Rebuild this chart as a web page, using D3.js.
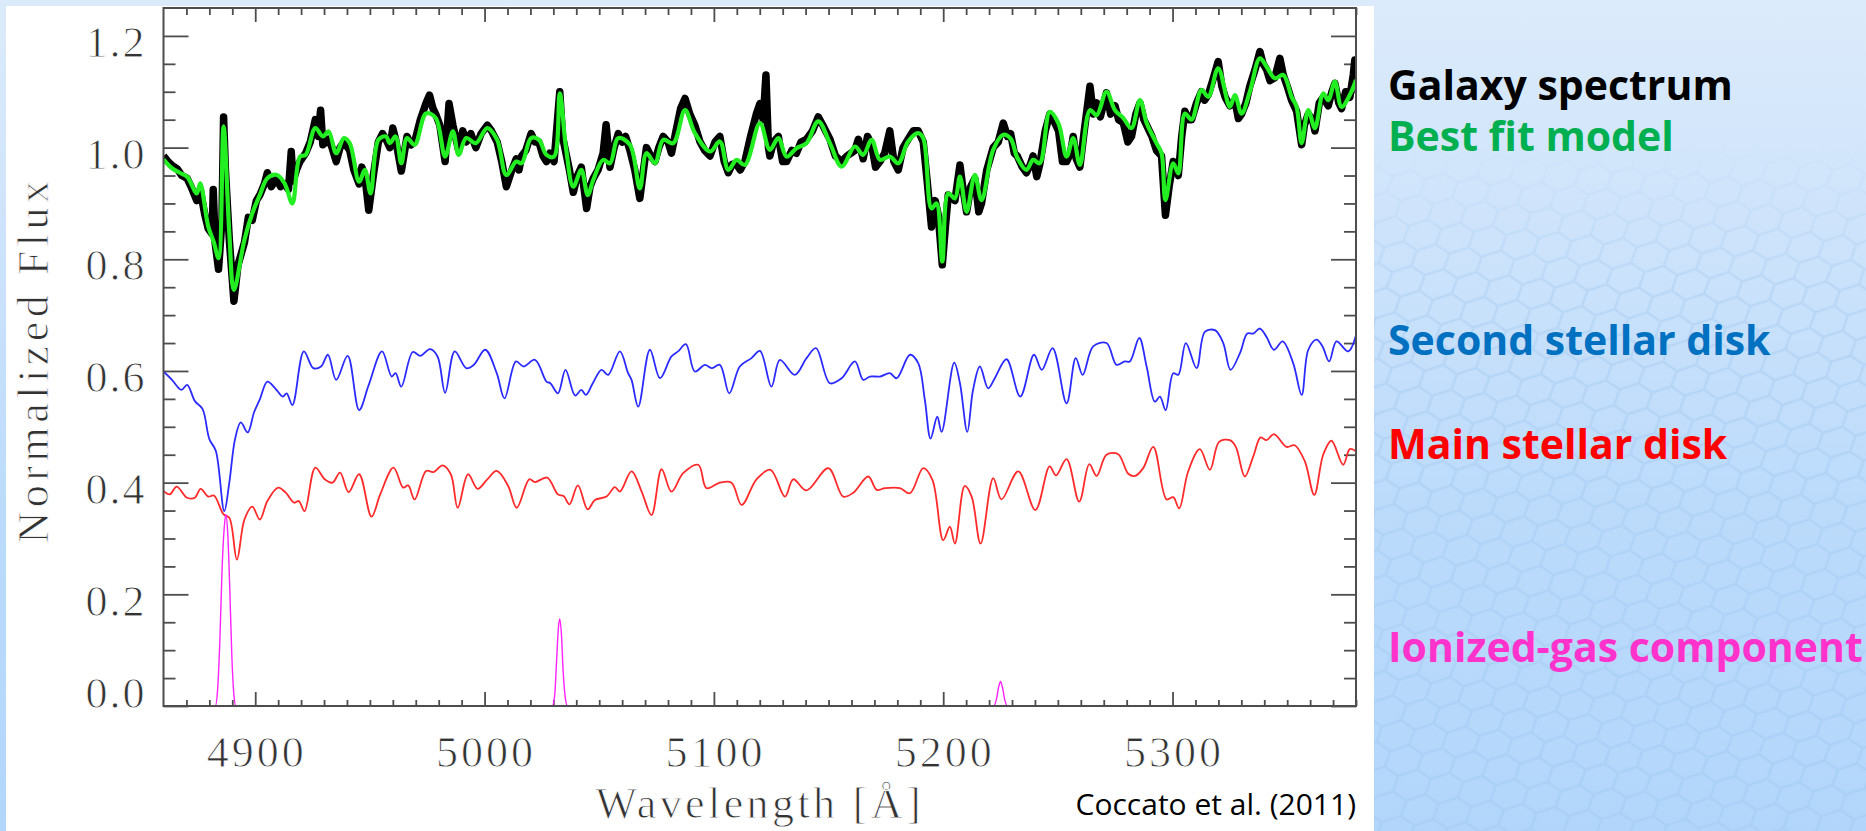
<!DOCTYPE html>
<html>
<head>
<meta charset="utf-8">
<script src="https://cdn.jsdelivr.net/npm/d3@7"></script>
<style>
  html, body { margin: 0; padding: 0; overflow: hidden; background: #fff; }
  svg { display: block; }
</style>
</head>
<body>
<svg id="chart" width="1866" height="831"></svg>
<script>
// ---- Spectra: [wavelength (Å), normalized flux] ----
const galaxySpectrum = [
  [4860,0.985],[4862,0.975],[4863.7,0.968],[4866,0.962],[4868,0.950],[4870.3,0.945],[4872,0.930],[4874.5,0.905],
  [4876,0.925],[4878,0.880],[4879.5,0.855],[4881.2,0.845],[4881.7,0.925],[4882.5,0.830],[4884,0.782],[4885.5,0.870],
  [4886.2,1.055],[4887,0.960],[4888.7,0.835],[4890.7,0.725],[4892.5,0.790],[4895.3,0.830],[4897,0.875],[4898.7,0.870],
  [4900.5,0.905],[4902,0.915],[4904,0.935],[4905.3,0.955],[4907,0.930],[4909.5,0.945],[4911,0.930],[4912.8,0.935],
  [4914.5,0.925],[4915.7,0.993],[4916.5,0.940],[4918,0.960],[4919.5,0.975],[4922,0.990],[4924,1.010],[4926.2,1.050],
  [4927.5,1.020],[4928.5,1.067],[4929.5,1.005],[4932,1.015],[4933.5,1.000],[4935.3,0.975],[4937,1.000],[4938.7,1.010],
  [4941.2,0.995],[4943,0.960],[4945.3,0.935],[4946.5,0.965],[4947.8,0.950],[4949.5,0.888],[4951.5,0.950],[4953.7,1.010],
  [4955.5,1.025],[4957,1.015],[4958.7,1.000],[4960,1.035],[4961.2,1.015],[4963.7,0.958],[4966.2,1.020],[4968,1.005],
  [4969.5,1.010],[4972,1.050],[4974.5,1.080],[4976,1.094],[4977.5,1.070],[4978.7,1.060],[4980.5,1.040],[4982.8,0.975],
  [4984.5,1.079],[4986.2,1.040],[4988.7,0.995],[4990.5,1.030],[4992,1.010],[4994,1.025],[4996.2,1.000],[4998.5,1.025],
  [5001.2,1.040],[5003,1.030],[5005.5,1.010],[5007.5,0.975],[5009.5,0.930],[5011.5,0.955],[5013.8,0.980],[5015,0.960],
  [5016.2,0.985],[5018,0.995],[5020.3,1.025],[5022,1.010],[5023.7,1.010],[5025.5,0.985],[5027,0.975],[5028.5,0.990],
  [5030.3,0.975],[5032.8,1.100],[5034,1.020],[5035.5,0.990],[5037,0.960],[5038.7,0.920],[5040.5,0.950],[5042.2,0.965],
  [5044.5,0.891],[5046,0.930],[5047.4,0.945],[5049.5,0.960],[5051.7,0.990],[5053,1.041],[5054.7,0.965],[5056.5,1.000],
  [5058.3,1.025],[5060,1.010],[5061.5,1.020],[5063.4,0.995],[5065.5,0.960],[5067.7,0.909],[5069,0.950],[5070.6,1.000],
  [5072.5,0.985],[5074.3,0.975],[5076,1.000],[5077.9,1.020],[5080,1.010],[5081.5,0.990],[5083.5,1.030],[5085.5,1.070],
  [5087.4,1.088],[5089.5,1.060],[5091.7,1.040],[5094,1.010],[5096,0.995],[5098.3,0.985],[5100.5,1.010],[5102.6,1.020],
  [5104.5,0.975],[5106.3,0.955],[5108,0.970],[5109.9,0.970],[5111.5,0.960],[5113.5,0.975],[5116,1.020],[5118.5,1.060],
  [5120.1,1.079],[5121.5,1.050],[5122.7,1.130],[5123.8,1.000],[5124.4,0.985],[5126,1.010],[5128.1,1.020],[5130,0.975],
  [5131.7,0.975],[5134,0.995],[5136,0.990],[5138,1.010],[5140.4,1.015],[5143,1.030],[5145.5,1.055],[5147.5,1.040],
  [5150.6,1.015],[5153,0.985],[5155.7,0.975],[5158,0.985],[5161.5,0.995],[5163,1.015],[5165.1,0.980],[5167,1.020],
  [5168.8,1.005],[5170.5,0.965],[5172.4,0.975],[5174.5,0.990],[5176.7,1.030],[5178.5,0.975],[5180.4,0.960],[5182.5,1.000],
  [5184.7,1.015],[5187,1.030],[5189.1,1.030],[5191.3,1.010],[5193,0.940],[5194.9,0.858],[5196.5,0.905],[5197.8,0.880],
  [5199.6,0.790],[5201,0.860],[5202.2,0.915],[5205.1,0.905],[5207.3,0.969],[5208.5,0.930],[5210.2,0.885],[5212,0.930],
  [5213.8,0.945],[5215.5,0.885],[5216.7,0.900],[5219,0.960],[5221.8,1.000],[5224,1.010],[5226.2,1.044],[5228,1.020],
  [5229.4,1.025],[5231,0.990],[5232.3,0.985],[5234.5,0.965],[5236.3,0.955],[5238,0.970],[5239.2,0.985],[5240.8,0.948],
  [5242.1,0.970],[5244.5,1.030],[5246.5,1.060],[5248,1.050],[5250.3,1.030],[5252,0.975],[5253.8,0.975],[5255.5,0.990],
  [5256.7,1.020],[5258,0.980],[5259.6,0.965],[5261.5,1.030],[5264,1.110],[5265.5,1.060],[5266.9,1.080],[5268.5,1.055],
  [5271.2,1.098],[5273,1.060],[5274.9,1.075],[5276.5,1.050],[5278.5,1.045],[5280.5,1.010],[5282.1,1.020],[5284,1.060],
  [5285.8,1.080],[5287.5,1.050],[5288.7,1.040],[5291,1.020],[5293,0.995],[5295.2,0.985],[5296.9,0.879],[5298.5,0.930],
  [5300.3,0.975],[5302.5,0.950],[5304,1.020],[5305.4,1.065],[5307,1.050],[5308.3,1.050],[5310.5,1.080],[5312.6,1.100],
  [5314,1.085],[5315.6,1.095],[5317.5,1.120],[5319.9,1.154],[5321.5,1.110],[5323,1.090],[5325,1.075],[5327.2,1.085],
  [5328.7,1.052],[5330.1,1.060],[5332,1.080],[5333.7,1.110],[5336,1.140],[5338.1,1.172],[5339.5,1.150],[5341,1.140],
  [5342.5,1.120],[5344.6,1.125],[5346.8,1.160],[5348.3,1.130],[5350,1.110],[5351.9,1.085],[5354.1,1.065],[5356.3,1.005],
  [5357.5,1.040],[5359.2,1.060],[5361,1.050],[5362.1,1.030],[5364,1.080],[5365.7,1.090],[5367.9,1.075],[5369.5,1.100],
  [5370.8,1.115],[5372.5,1.080],[5373.7,1.070],[5375.5,1.100],[5377.3,1.090],[5378.8,1.130],[5379.5,1.157],[5380,1.130]
];

const bestFitModel = [
  [4860,0.979],[4863.7,0.963],[4867,0.955],[4870.3,0.948],[4874.5,0.918],[4876,0.936],[4879.5,0.859],[4882,0.830],
  [4884,0.802],[4886.2,1.038],[4888.7,0.847],[4890.7,0.745],[4895.3,0.835],[4898.7,0.882],[4902,0.915],[4905.3,0.945],
  [4909.5,0.951],[4912.8,0.936],[4916.2,0.900],[4919.5,0.984],[4922,0.987],[4926.2,1.035],[4929.5,1.020],[4932,1.029],
  [4935.3,0.990],[4938.7,1.017],[4941.2,1.008],[4945.3,0.939],[4947.8,0.960],[4950.3,0.918],[4953.7,1.014],[4957,1.020],
  [4958.7,1.008],[4961.2,1.020],[4963.7,0.972],[4966.2,1.017],[4969.5,1.005],[4974.5,1.061],[4978.7,1.053],[4982.8,0.984],
  [4986.2,1.029],[4988.7,0.987],[4992,1.017],[4996.2,1.008],[5001.2,1.035],[5005.5,1.014],[5009.5,0.951],[5013.8,0.975],
  [5016.2,0.972],[5020.3,1.017],[5023.7,1.014],[5027,0.987],[5030.3,0.984],[5032.8,1.097],[5035.5,1.000],[5038.7,0.930],
  [5042.2,0.960],[5045,0.915],[5047.4,0.942],[5051.7,0.978],[5054.7,0.972],[5058.3,1.017],[5063.4,1.005],[5067.7,0.927],
  [5070.6,0.990],[5074.3,0.972],[5077.9,1.014],[5082.3,1.008],[5087.4,1.067],[5091.7,1.026],[5098.3,0.993],[5102.6,1.011],
  [5106.3,0.960],[5109.9,0.978],[5113.5,0.969],[5120.1,1.044],[5124.4,0.996],[5128.1,1.017],[5131.7,0.984],[5136,0.999],
  [5140.4,1.008],[5145.5,1.047],[5150.6,1.008],[5155.7,0.966],[5161.5,1.002],[5165.1,0.987],[5168.8,1.014],[5172.4,0.978],
  [5176.7,0.984],[5180.4,0.972],[5184.7,1.011],[5189.1,1.026],[5191.3,1.017],[5194.9,0.891],[5197.1,0.900],[5199.6,0.796],
  [5202.2,0.918],[5205.1,0.909],[5207.3,0.948],[5210.2,0.885],[5213.8,0.951],[5216.7,0.906],[5221.8,0.996],[5226.2,1.023],
  [5229.4,1.016],[5232.3,0.982],[5236.3,0.960],[5239.2,0.978],[5242.1,0.972],[5246.5,1.064],[5250.3,1.043],[5253.8,0.984],
  [5256.7,1.017],[5259.6,0.969],[5264,1.067],[5266.9,1.058],[5271.2,1.100],[5274.9,1.067],[5278.5,1.053],[5282.1,1.035],
  [5285.8,1.085],[5288.7,1.044],[5293,1.008],[5295.2,0.990],[5296.9,0.906],[5300.3,0.972],[5302.5,0.954],[5305.4,1.061],
  [5308.3,1.050],[5312.6,1.103],[5315.6,1.091],[5319.9,1.142],[5325,1.073],[5327.2,1.094],[5330.1,1.061],[5333.7,1.100],
  [5338.1,1.160],[5341,1.145],[5344.6,1.124],[5348.3,1.130],[5351.9,1.091],[5354.1,1.073],[5356.3,1.008],[5359.2,1.067],
  [5362.1,1.035],[5365.7,1.097],[5367.9,1.085],[5370.8,1.118],[5373.7,1.073],[5377.3,1.094],[5380,1.121]
];

const secondStellarDisk = [
  [4860,0.599],[4863.7,0.584],[4867.8,0.566],[4870.3,0.575],[4873.7,0.546],[4877,0.532],[4880,0.478],[4882.8,0.457],
  [4886.5,0.349],[4888.7,0.400],[4891.2,0.478],[4893.7,0.508],[4896.7,0.490],[4899.5,0.526],[4902,0.549],[4905.3,0.581],
  [4908.7,0.569],[4912,0.554],[4913.7,0.560],[4916.2,0.539],[4921.2,0.635],[4925.3,0.605],[4928.7,0.608],[4931.7,0.629],
  [4935.3,0.584],[4940.3,0.627],[4945.3,0.530],[4949.5,0.575],[4955.3,0.635],[4959.5,0.590],[4961.2,0.596],[4963.7,0.572],
  [4968.7,0.634],[4972,0.627],[4976.2,0.639],[4979.5,0.626],[4982.8,0.561],[4987,0.635],[4992,0.605],[4995.3,0.611],
  [5000.3,0.638],[5005.3,0.596],[5008.7,0.551],[5013.7,0.617],[5017,0.608],[5022,0.620],[5027,0.581],[5028.7,0.578],
  [5032,0.560],[5035.3,0.602],[5039.5,0.556],[5042.2,0.566],[5044.2,0.557],[5047.2,0.578],[5051,0.602],[5053.9,0.593],
  [5059,0.635],[5062.6,0.596],[5064.1,0.584],[5067,0.536],[5072.1,0.638],[5076.5,0.587],[5081.5,0.626],[5084.4,0.635],
  [5087.8,0.648],[5091.7,0.599],[5096.1,0.611],[5099,0.605],[5102.6,0.611],[5106.7,0.560],[5111.3,0.608],[5116.4,0.623],
  [5120.1,0.636],[5125.1,0.572],[5128.8,0.620],[5135.3,0.593],[5140.4,0.623],[5144.5,0.641],[5150.6,0.578],[5155.7,0.587],
  [5161.5,0.617],[5165.1,0.584],[5168,0.590],[5172.4,0.590],[5176.7,0.596],[5179.7,0.587],[5185.5,0.629],[5189.1,0.614],
  [5192,0.548],[5194.5,0.479],[5197.4,0.518],[5199.3,0.491],[5204.8,0.615],[5207.3,0.578],[5210.5,0.491],[5213,0.566],
  [5216,0.608],[5219.6,0.569],[5222.5,0.587],[5227.6,0.621],[5233.6,0.554],[5239.6,0.629],[5243,0.602],[5247.7,0.641],
  [5253.8,0.542],[5257.8,0.623],[5260.8,0.593],[5265.4,0.644],[5271.2,0.650],[5275.6,0.611],[5279.2,0.617],[5281.4,0.617],
  [5285.5,0.659],[5288.7,0.608],[5292.3,0.545],[5294.5,0.554],[5297,0.530],[5300.3,0.596],[5302.5,0.593],[5305.8,0.650],
  [5310.5,0.605],[5314.1,0.670],[5318.5,0.673],[5322.1,0.650],[5325.3,0.602],[5329.4,0.632],[5332.6,0.667],[5335.2,0.667],
  [5338.1,0.676],[5341,0.661],[5344.2,0.638],[5348,0.653],[5352.6,0.614],[5356.3,0.557],[5359.2,0.638],[5362.8,0.656],
  [5365.4,0.644],[5368.3,0.617],[5371.5,0.653],[5376.6,0.635],[5380,0.664]
];

const mainStellarDisk = [
  [4860,0.385],[4862.8,0.379],[4865.7,0.393],[4870.3,0.373],[4873.7,0.373],[4876.2,0.389],[4879.5,0.375],[4882,0.377],
  [4886.2,0.343],[4888.7,0.337],[4892,0.262],[4895.3,0.334],[4898.7,0.357],[4902,0.334],[4905.3,0.367],[4910,0.391],
  [4913.3,0.382],[4917,0.364],[4919,0.367],[4921.5,0.349],[4926.2,0.427],[4930.3,0.406],[4933.7,0.400],[4937,0.418],
  [4940.7,0.383],[4945.3,0.415],[4950.7,0.339],[4954.5,0.379],[4960.3,0.427],[4964.5,0.391],[4966.7,0.395],[4969.5,0.370],
  [4974.5,0.421],[4977.8,0.419],[4981.7,0.431],[4985.3,0.415],[4988.3,0.355],[4992.8,0.415],[4997,0.389],[5001.2,0.406],
  [5005.3,0.421],[5010.3,0.394],[5014,0.355],[5019.5,0.406],[5022,0.401],[5027.3,0.409],[5032,0.379],[5034.5,0.376],
  [5037,0.361],[5040.7,0.395],[5045,0.352],[5048.1,0.369],[5053.2,0.375],[5056.8,0.392],[5059,0.384],[5064.1,0.420],
  [5068.5,0.384],[5072.8,0.342],[5077.2,0.424],[5081.5,0.384],[5086.6,0.417],[5093.2,0.432],[5096.8,0.390],[5102.6,0.400],
  [5107.7,0.400],[5112.1,0.360],[5118.6,0.406],[5124.7,0.423],[5131,0.375],[5134.6,0.406],[5140.4,0.386],[5149.9,0.426],
  [5156.4,0.375],[5160.8,0.382],[5167.3,0.411],[5171,0.387],[5174.6,0.390],[5181.1,0.390],[5185.5,0.381],[5191.3,0.426],
  [5195.3,0.405],[5200,0.297],[5202.9,0.321],[5205.1,0.291],[5209.4,0.394],[5212.4,0.375],[5216.3,0.291],[5221.8,0.408],
  [5225.4,0.370],[5232.7,0.420],[5240.2,0.351],[5246.4,0.429],[5249.2,0.413],[5253.8,0.442],[5259.3,0.366],[5263.7,0.433],
  [5266.9,0.412],[5271.2,0.450],[5276.3,0.451],[5280.7,0.416],[5283.6,0.412],[5287.2,0.426],[5291.6,0.464],[5297.4,0.370],
  [5300.3,0.374],[5302.9,0.354],[5306.8,0.420],[5311.9,0.460],[5316.3,0.423],[5320.3,0.473],[5325,0.476],[5327.6,0.464],
  [5331.5,0.411],[5335.2,0.447],[5338.4,0.481],[5341,0.476],[5344.2,0.487],[5349.7,0.464],[5353.3,0.467],[5357.7,0.438],
  [5361.8,0.378],[5365.7,0.450],[5369.3,0.475],[5374.4,0.432],[5377.3,0.460],[5380,0.456]
];

const ionizedGas = [
  [4860,0],[4882.6,0],[4883.6,0.03],[4884.6,0.12],[4885.5,0.24],[4886.5,0.32],[4887.2,0.343],[4888,0.31],
  [4888.9,0.21],[4889.8,0.09],[4890.7,0.02],[4891.6,0],
  [5029.5,0],[5030.6,0.02],[5031.4,0.08],[5032.2,0.14],[5032.8,0.156],[5033.5,0.13],[5034.3,0.06],[5035.2,0.015],[5036.2,0],
  [5222,0],[5223.2,0.012],[5224.3,0.036],[5225,0.044],[5225.8,0.034],[5226.9,0.01],[5228,0],[5265,0]
];

const xTickValues = [4900, 5000, 5100, 5200, 5300];
const yTickValues = [0.0, 0.2, 0.4, 0.6, 0.8, 1.0, 1.2];
const legendLabels = ["Galaxy spectrum", "Best fit model", "Second stellar disk", "Main stellar disk", "Ionized-gas component"];
const legendColors = ["#000000", "#00b050", "#0070c0", "#ff0000", "#ff33cc"];
const creditText = "Coccato et al. (2011)";

// ---- Layout ----
const W = 1866, H = 831;
const plot = { left: 163.5, right: 1356, top: 8, bottom: 706 };

const svg = d3.select("#chart");
const defs = svg.append("defs");

// Slide background: pale blue gradient with a faint honeycomb texture
const bg = defs.append("linearGradient").attr("id", "bgGrad").attr("x1", 0).attr("y1", 0).attr("x2", 0).attr("y2", 1);
bg.append("stop").attr("offset", "0").attr("stop-color", "#dcebfb");
bg.append("stop").attr("offset", "0.25").attr("stop-color", "#cfe4fb");
bg.append("stop").attr("offset", "0.6").attr("stop-color", "#bcdbfb");
bg.append("stop").attr("offset", "1").attr("stop-color", "#b2d6fb");

const hex = defs.append("pattern").attr("id", "hex").attr("patternUnits", "userSpaceOnUse")
  .attr("width", 60).attr("height", 26).attr("patternTransform", "rotate(-18)");
hex.append("path")
  .attr("d", "M0,13 L10,0 L30,0 L40,13 L30,26 L10,26 Z M40,13 L60,13")
  .attr("fill", "none").attr("stroke", "#9ec6ee").attr("stroke-width", 2.5).attr("stroke-linejoin", "round");

const hexFade = defs.append("linearGradient").attr("id", "hexFade").attr("x1", 0).attr("y1", 0).attr("x2", 0).attr("y2", 1);
hexFade.append("stop").attr("offset", "0").attr("stop-color", "#fff").attr("stop-opacity", 0);
hexFade.append("stop").attr("offset", "0.17").attr("stop-color", "#fff").attr("stop-opacity", 0);
hexFade.append("stop").attr("offset", "0.35").attr("stop-color", "#fff").attr("stop-opacity", 0.75);
hexFade.append("stop").attr("offset", "1").attr("stop-color", "#fff").attr("stop-opacity", 0.75);
defs.append("mask").attr("id", "hexMask").attr("maskUnits", "userSpaceOnUse")
  .attr("x", 0).attr("y", 0).attr("width", W).attr("height", H)
  .append("rect").attr("width", W).attr("height", H).attr("fill", "url(#hexFade)");

svg.append("rect").attr("width", W).attr("height", H).attr("fill", "url(#bgGrad)");
svg.append("rect").attr("x", 1374).attr("y", 0).attr("width", W - 1374).attr("height", H)
  .attr("fill", "url(#hex)").attr("opacity", 0.5).attr("mask", "url(#hexMask)");

// White figure panel
svg.append("rect").attr("x", 6).attr("y", 6).attr("width", 1368).attr("height", H - 6).attr("fill", "#ffffff");

// ---- Scales ----
const x = d3.scaleLinear().domain([4860, 5380]).range([plot.left, plot.right]);
const y = d3.scaleLinear().domain([0, 1.25]).range([plot.bottom, plot.top]);

defs.append("clipPath").attr("id", "plotClip").append("rect")
  .attr("x", plot.left).attr("y", plot.top).attr("width", plot.right - plot.left).attr("height", plot.bottom - plot.top);

// ---- Axes (ticks point inward on all four sides) ----
const axisColor = "#4d4d4d";
const xMinor = d3.range(4870, 5381, 10).filter(v => v % 100 !== 0);
const yMinor = d3.range(0.05, 1.25, 0.05).filter(v => Math.abs(v * 5 - Math.round(v * 5)) > 1e-6);

function styleAxis(g) {
  g.select(".domain").remove();
  g.selectAll(".tick line").attr("stroke", axisColor).attr("stroke-width", 1.8);
}

const labelFont = "'Liberation Serif', 'DejaVu Serif', serif";
// thin, light-grey serif lettering for axis numbers and titles
function thinSerif(sel, spacing) {
  sel.attr("font-family", labelFont).attr("font-size", 44).attr("fill", "#333")
    .attr("stroke", "#fff").attr("stroke-width", 0.9)
    .attr("letter-spacing", spacing);
}

// bottom
svg.append("g").attr("transform", `translate(0,${plot.bottom})`)
  .call(d3.axisBottom(x).tickValues(xMinor).tickSize(-6).tickFormat(""))
  .call(styleAxis);
const xAxisG = svg.append("g").attr("transform", `translate(0,${plot.bottom})`)
  .call(d3.axisBottom(x).tickValues(xTickValues).tickSize(-14).tickPadding(30).tickFormat(d3.format("d")))
  .call(styleAxis);
xAxisG.selectAll(".tick text").call(thinSerif, 3).attr("dx", 1);

// top
svg.append("g").attr("transform", `translate(0,${plot.top})`)
  .call(d3.axisTop(x).tickValues(xMinor).tickSize(-7).tickFormat(""))
  .call(styleAxis);
svg.append("g").attr("transform", `translate(0,${plot.top})`)
  .call(d3.axisTop(x).tickValues(xTickValues).tickSize(-14).tickFormat(""))
  .call(styleAxis);

// left
svg.append("g").attr("transform", `translate(${plot.left},0)`)
  .call(d3.axisLeft(y).tickValues(yMinor).tickSize(-12).tickFormat(""))
  .call(styleAxis);
const yAxisG = svg.append("g").attr("transform", `translate(${plot.left},0)`)
  .call(d3.axisLeft(y).tickValues(yTickValues).tickSize(-25).tickPadding(17).tickFormat(d3.format(".1f")))
  .call(styleAxis);
yAxisG.selectAll(".tick text").call(thinSerif, 2)
  .attr("dy", d => d === 0 ? "0.03em" : "0.47em");

// right
svg.append("g").attr("transform", `translate(${plot.right},0)`)
  .call(d3.axisRight(y).tickValues(yMinor).tickSize(-12).tickFormat(""))
  .call(styleAxis);
svg.append("g").attr("transform", `translate(${plot.right},0)`)
  .call(d3.axisRight(y).tickValues(yTickValues).tickSize(-25).tickFormat(""))
  .call(styleAxis);

// ---- Spectra ----
const lines = svg.append("g").attr("clip-path", "url(#plotClip)");
const lineLinear = d3.line().x(d => x(d[0])).y(d => y(d[1]));
const lineSmooth = d3.line().x(d => x(d[0])).y(d => y(d[1])).curve(d3.curveCatmullRom.alpha(0.5));
const lineMono = d3.line().x(d => x(d[0])).y(d => y(d[1])).curve(d3.curveMonotoneX);

lines.append("path").datum(galaxySpectrum).attr("d", lineLinear)
  .attr("fill", "none").attr("stroke", "#000").attr("stroke-width", 7.5).attr("stroke-linejoin", "round");
lines.append("path").datum(bestFitModel).attr("d", lineSmooth)
  .attr("fill", "none").attr("stroke", "#22ee22").attr("stroke-width", 4.2).attr("stroke-linejoin", "round");
lines.append("path").datum(secondStellarDisk).attr("d", lineSmooth)
  .attr("fill", "none").attr("stroke", "#2b2bff").attr("stroke-width", 1.8);
lines.append("path").datum(mainStellarDisk).attr("d", lineSmooth)
  .attr("fill", "none").attr("stroke", "#ff2a2a").attr("stroke-width", 1.8);

// plot frame
svg.append("rect").attr("x", plot.left).attr("y", plot.top)
  .attr("width", plot.right - plot.left).attr("height", plot.bottom - plot.top)
  .attr("fill", "none").attr("stroke", axisColor).attr("stroke-width", 2);

lines.append("path").datum(ionizedGas).attr("d", lineMono)
  .attr("fill", "none").attr("stroke", "#ff22ff").attr("stroke-width", 1.4);

// ---- Axis titles ----
svg.append("text")
  .attr("x", (plot.left + plot.right) / 2).attr("y", 818)
  .attr("text-anchor", "middle")
  .call(thinSerif, 3.4)
  .text("Wavelength [Å]");

svg.append("text")
  .attr("transform", "translate(48,360) rotate(-90)")
  .attr("text-anchor", "middle")
  .call(thinSerif, 4.5)
  .text("Normalized Flux");

svg.append("text")
  .attr("x", plot.right).attr("y", 815)
  .attr("text-anchor", "end")
  .attr("font-family", "'Comic Sans MS', 'Open Sans', sans-serif").attr("font-size", 30).attr("fill", "#000")
  .text(creditText);

// ---- Component labels ----
const legendBaselines = [100, 151, 355, 459, 662];
svg.append("g").selectAll("text").data(legendLabels).join("text")
  .attr("x", 1388).attr("y", (d, i) => legendBaselines[i])
  .attr("font-family", "'Comic Sans MS', 'Open Sans', sans-serif").attr("font-weight", 700)
  .attr("font-size", 41)
  .attr("fill", (d, i) => legendColors[i])
  .text(d => d);
</script>
</body>
</html>
